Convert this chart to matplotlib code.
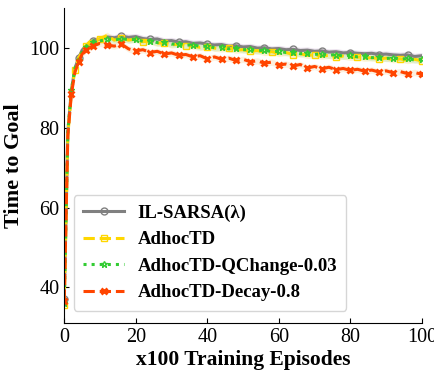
import numpy as np
import matplotlib
matplotlib.use("Agg")
import matplotlib.pyplot as plt

plt.rcParams['font.family'] = ['Liberation Serif', 'DejaVu Serif']

episodes = [0, 1, 2, 3, 4, 5, 6, 7, 8, 10, 12, 14, 16, 18, 20, 22, 24, 26, 28, 30,
            32, 34, 36, 38, 40, 42, 44, 46, 48, 50, 52, 54, 56, 58, 60, 62, 64, 66,
            68, 70, 72, 74, 76, 78, 80, 82, 84, 86, 88, 90, 92, 94, 96, 98, 100]

il_sarsa = [37.0, 79.0, 89.5, 95.0, 97.5, 99.5, 100.5, 101.2, 101.8, 102.3, 102.8, 102.6,
            103.0, 102.7, 102.9, 102.4, 102.2, 102.3, 101.8, 101.9, 101.5, 101.6, 101.2,
            101.3, 101.0, 100.8, 100.9, 100.5, 100.6, 100.3, 100.4, 100.0, 100.1, 99.8,
            99.9, 99.6, 99.7, 99.4, 99.5, 99.2, 99.3, 99.0, 99.1, 98.8, 98.9, 98.7, 98.6,
            98.7, 98.4, 98.5, 98.3, 98.2, 98.3, 97.9, 98.1]

adhoc = [35.5, 78.0, 89.0, 94.5, 97.5, 99.0, 100.5, 101.5, 102.0, 102.3, 103.2, 102.0,
         102.5, 102.0, 102.3, 101.6, 101.8, 101.2, 101.4, 100.8, 101.0, 100.6, 100.5,
         100.2, 100.4, 100.0, 99.8, 100.0, 99.5, 99.6, 99.2, 99.4, 98.9, 99.1, 98.7,
         98.9, 98.4, 98.6, 98.2, 98.3, 98.0, 98.2, 97.8, 98.0, 97.7, 97.8, 97.5, 97.6,
         97.3, 97.5, 97.1, 97.3, 96.9, 97.2, 96.8]

adhoc_qchange = [36.0, 79.0, 89.5, 95.0, 97.0, 99.0, 100.2, 101.0, 101.5, 101.8, 102.2,
                 102.0, 102.4, 102.1, 102.2, 101.7, 101.9, 101.4, 101.5, 101.0, 101.1,
                 100.7, 100.9, 100.4, 100.5, 100.1, 100.3, 99.8, 100.0, 99.6, 99.7, 99.3,
                 99.5, 99.1, 99.2, 98.9, 99.0, 98.6, 98.8, 98.4, 98.6, 98.2, 98.4, 98.0,
                 98.2, 97.8, 98.0, 97.6, 97.8, 97.4, 97.6, 97.2, 97.4, 97.0, 97.2]

adhoc_decay = [36.5, 78.0, 88.5, 94.0, 96.5, 98.5, 99.5, 100.0, 100.5, 101.2, 100.8,
               100.5, 101.0, 99.8, 99.3, 99.6, 98.9, 99.2, 98.5, 98.8, 98.2, 98.4, 97.8,
               98.1, 97.3, 97.8, 97.2, 97.5, 96.9, 97.2, 96.6, 96.8, 96.2, 96.5, 95.8,
               96.0, 95.5, 95.9, 95.0, 95.4, 94.8, 95.2, 94.6, 94.9, 94.4, 94.7, 94.2,
               94.5, 94.0, 94.3, 93.8, 94.1, 93.6, 93.9, 93.4]

spread = 0.8

fig, ax = plt.subplots(figsize=(4.34, 3.75), dpi=100)

series = [
    ("IL-SARSA(λ)", il_sarsa, "#808080", "-", "o", 4, "#d9c7dd"),
    ("AdhocTD", adhoc, "#ffd700", "--", "s", 3, "#fbe9a6"),
    ("AdhocTD-QChange-0.03", adhoc_qchange, "#33cc33", ":", "*", 2, "#c8e9c0"),
    ("AdhocTD-Decay-0.8", adhoc_decay, "#ff4500", "--", "x", 2, "#fbe3c0"),
]

x = np.array(episodes)
for label, vals, col, ls, mk, every, shade in series:
    y = np.array(vals)
    ax.fill_between(x, y - spread, y + spread, color=shade, alpha=0.5, lw=0)
for label, vals, col, ls, mk, every, shade in series:
    if mk == "x":
        ax.plot(x, vals, color=col, ls=ls, lw=2.2, marker=mk, markevery=every,
                ms=5, mew=2, label=label)
    else:
        ax.plot(x, vals, color=col, ls=ls, lw=2.2, marker=mk, markevery=every,
                ms=5, mfc="none", mec=col, mew=1.0, label=label)

ax.set_xlim(0, 100)
ax.set_ylim(31, 110)
ax.set_xticks([0, 20, 40, 60, 80, 100])
ax.set_yticks([40, 60, 80, 100])
ax.tick_params(direction="in", labelsize=14.5)
ax.spines["top"].set_visible(False)
ax.spines["right"].set_visible(False)
ax.set_xlabel("x100 Training Episodes", fontsize=15.5, fontweight="bold", labelpad=2)
ax.set_ylabel("Time to Goal", fontsize=16, fontweight="bold")

leg = ax.legend(loc="lower left", bbox_to_anchor=(0.0, 0.01), handlelength=2.2,
                handletextpad=0.7, prop={"weight": "bold", "size": 13.5},
                borderpad=0.5, labelspacing=0.5)

fig.subplots_adjust(left=0.148, right=0.972, top=0.978, bottom=0.138)
fig.savefig("out.png", dpi=100)
